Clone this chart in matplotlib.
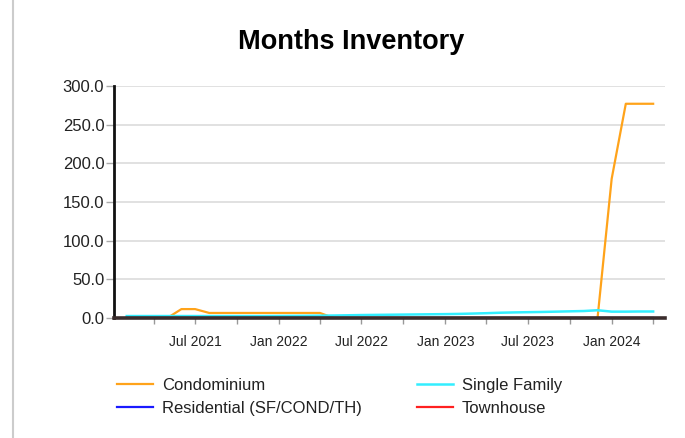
import matplotlib
matplotlib.use('Agg')
import matplotlib.pyplot as plt
import matplotlib.dates as mdates
from matplotlib.lines import Line2D
from matplotlib.ticker import FormatStrFormatter
import pandas as pd

plt.rcParams['font.family'] = ['Liberation Sans', 'DejaVu Sans']

# monthly points, Feb 2021 .. Apr 2024
months = pd.date_range('2021-02-01', '2024-04-01', freq='MS')

condominium = [0, 0, 0, 0, 11.5, 11.5, 6.5, 6.5, 6.5, 6.5, 6.5,
               6.5, 6.5, 6.5, 6.5, 0, 0, 0, 0, 0, 0, 0, 0,
               0, 0, 0, 0, 0, 0, 0, 0, 0, 0, 0, 0,
               180, 277, 277, 277]
single_family = [2.5, 2.5, 2.5, 2.5, 2.5, 2.5, 2.5, 2.5, 2.5, 2.5, 2.5,
                 2.6, 2.7, 2.8, 3.0, 3.2, 3.5, 3.8, 4.0, 4.2, 4.4, 4.6, 4.8,
                 5.0, 5.3, 5.7, 6.2, 6.8, 7.2, 7.5, 7.8, 8.2, 8.6, 9.0, 10.0,
                 8.2, 8.2, 8.4, 8.4]
residential = [0] * 39
townhouse = [0] * 39

fig = plt.figure(figsize=(6.85, 4.38), dpi=100)
ax = fig.add_axes([0.1664, 0.274, 0.8044, 0.5297])

ax.plot(months, condominium, color='#ffa31a', lw=1.6, label='Condominium')
ax.plot(months, residential, color='#1a1aff', lw=1.6, label='Residential (SF/COND/TH)')
ax.plot(months, single_family, color='#33eeff', lw=1.8, label='Single Family')
ax.plot(months, townhouse, color='#ff2020', lw=1.6, label='Townhouse')

ax.set_ylim(0, 300)
ax.set_yticks([0, 50, 100, 150, 200, 250, 300])
ax.yaxis.set_major_formatter(FormatStrFormatter('%.1f'))
ax.set_xlim(pd.Timestamp('2021-01-04'), pd.Timestamp('2024-04-27'))
ax.xaxis.set_major_locator(mdates.MonthLocator(bymonth=[1, 7]))
ax.xaxis.set_minor_locator(mdates.MonthLocator(bymonth=[4, 10]))
ax.xaxis.set_major_formatter(mdates.DateFormatter('%b %Y'))

ax.grid(axis='y', color='#dcdcdc', lw=1.2)
ax.set_axisbelow(True)
for s in ['top', 'right']:
    ax.spines[s].set_visible(False)
ax.spines['left'].set_linewidth(2)
ax.spines['left'].set_color('#111111')
ax.spines['bottom'].set_linewidth(2.6)
ax.spines['bottom'].set_color('#3a2c2c')

ax.tick_params(axis='y', length=6, width=1, color='#aaaaaa', pad=1, labelsize=12)
ax.tick_params(axis='x', which='both', length=4, width=1, color='#999999', pad=8, labelsize=10)
for lbl in ax.get_xticklabels() + ax.get_yticklabels():
    lbl.set_color('#222222')

fig.text(0.513, 0.904, 'Months Inventory', ha='center', va='center',
         fontsize=19.5, fontweight='bold')

fig.legend(loc='upper left', bbox_to_anchor=(0.171, 0.137), ncol=2, frameon=False,
           fontsize=12, handlelength=2.15, handletextpad=0.55, columnspacing=3.3,
           labelspacing=0.5, borderpad=0, borderaxespad=0, labelcolor='#222222')

fig.add_artist(Line2D([13 / 685, 13 / 685], [0, 1], color='#cccccc', lw=1.5))

fig.savefig('out.png', dpi=100)
